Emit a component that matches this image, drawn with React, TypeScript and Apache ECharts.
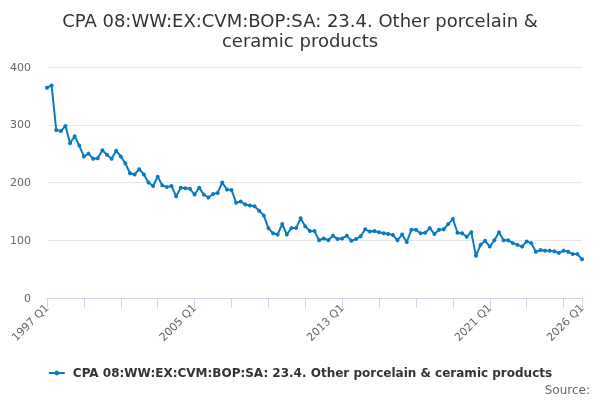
import React, { useEffect, useRef } from "react";
import * as echarts from "echarts";

const startYear = 1997;
const seriesName = "CPA 08:WW:EX:CVM:BOP:SA: 23.4. Other porcelain & ceramic products";
const titleText = "CPA 08:WW:EX:CVM:BOP:SA: 23.4. Other porcelain &\nceramic products";

const values: number[] = [
  364, 368, 291, 289, 298, 268, 280, 264, 245, 250,
  241, 242, 256, 248, 241, 255, 245, 233, 216, 214,
  223, 214, 200, 194, 210, 195, 192, 194, 176, 191,
  190, 189, 179, 191, 179, 174, 180, 182, 200, 188,
  187, 165, 167, 162, 160, 159, 151, 143, 121, 112,
  110, 128, 110, 121, 121, 138, 124, 116, 116, 100,
  103, 100, 108, 102, 103, 108, 99, 102, 107, 119,
  115, 116, 114, 112, 111, 109, 100, 110, 97, 118,
  118, 112, 113, 121, 111, 118, 119, 128, 137, 113,
  112, 106, 114, 73, 92, 99, 89, 100, 114, 100,
  100, 95, 92, 89, 98, 95, 80, 83, 82, 82,
  81, 78, 82, 80, 76, 76, 67,
];

const categories: string[] = values.map(
  (_, i) => `${startYear + Math.floor(i / 4)} Q${(i % 4) + 1}`
);

const yTicks = [0, 100, 200, 300, 400];

export default function App() {
  const ref = useRef<HTMLDivElement>(null);
  useEffect(() => {
    if (!ref.current) return;
    const chart = echarts.init(ref.current, undefined, { renderer: "svg" });
    const last = categories.length - 1;
    const font = "DejaVu Sans";
    chart.setOption({
      animation: false,
      title: {
        text: titleText,
        left: "center",
        top: 5,
        textStyle: {
          fontFamily: font,
          fontSize: 18,
          fontWeight: "normal",
          color: "#333333",
          lineHeight: 20,
        },
      },
      grid: { left: 47, right: 18, top: 67, bottom: 102 },
      xAxis: {
        type: "category",
        data: categories,
        boundaryGap: false,
        axisLine: { lineStyle: { color: "#ccd6eb" } },
        axisTick: {
          length: 10,
          lineStyle: { color: "#ccd6eb" },
          interval: (i: number) => i % 8 === 0 || i === last,
        },
        axisLabel: {
          rotate: 45,
          fontFamily: font,
          fontSize: 11,
          color: "#666666",
          margin: 8,
          interval: (i: number) => i % 32 === 0 || i === last,
        },
        splitLine: { show: false },
      },
      yAxis: {
        type: "value",
        min: yTicks[0],
        max: yTicks[yTicks.length - 1],
        interval: 100,
        axisLine: { show: false },
        axisTick: { show: false },
        axisLabel: { fontFamily: font, fontSize: 11, color: "#666666", margin: 16 },
        splitLine: { lineStyle: { color: "#e6e6e6" } },
      },
      legend: {
        bottom: 16,
        left: "center",
        itemWidth: 16,
        itemHeight: 6,
        itemGap: 8,
        textStyle: { fontFamily: font, fontSize: 12, fontWeight: "bold", color: "#333333", padding: [0, 0, 0, 3] },
        data: [seriesName],
      },
      graphic: [
        {
          type: "text",
          right: 10,
          bottom: 4,
          style: { text: "Source:", fontFamily: font, fontSize: 12, fill: "#666666" },
        },
      ],
      series: [
        {
          name: seriesName,
          type: "line",
          data: values,
          symbol: "circle",
          symbolSize: 4,
          showAllSymbol: true,
          lineStyle: { width: 2, color: "#0b7bc1" },
          itemStyle: { color: "#0b7bc1" },
        },
      ],
    });
    return () => chart.dispose();
  }, []);
  return (
    <div
      ref={ref}
      style={{ position: "fixed", left: 0, top: 0, width: 600, height: 400 }}
    />
  );
}
